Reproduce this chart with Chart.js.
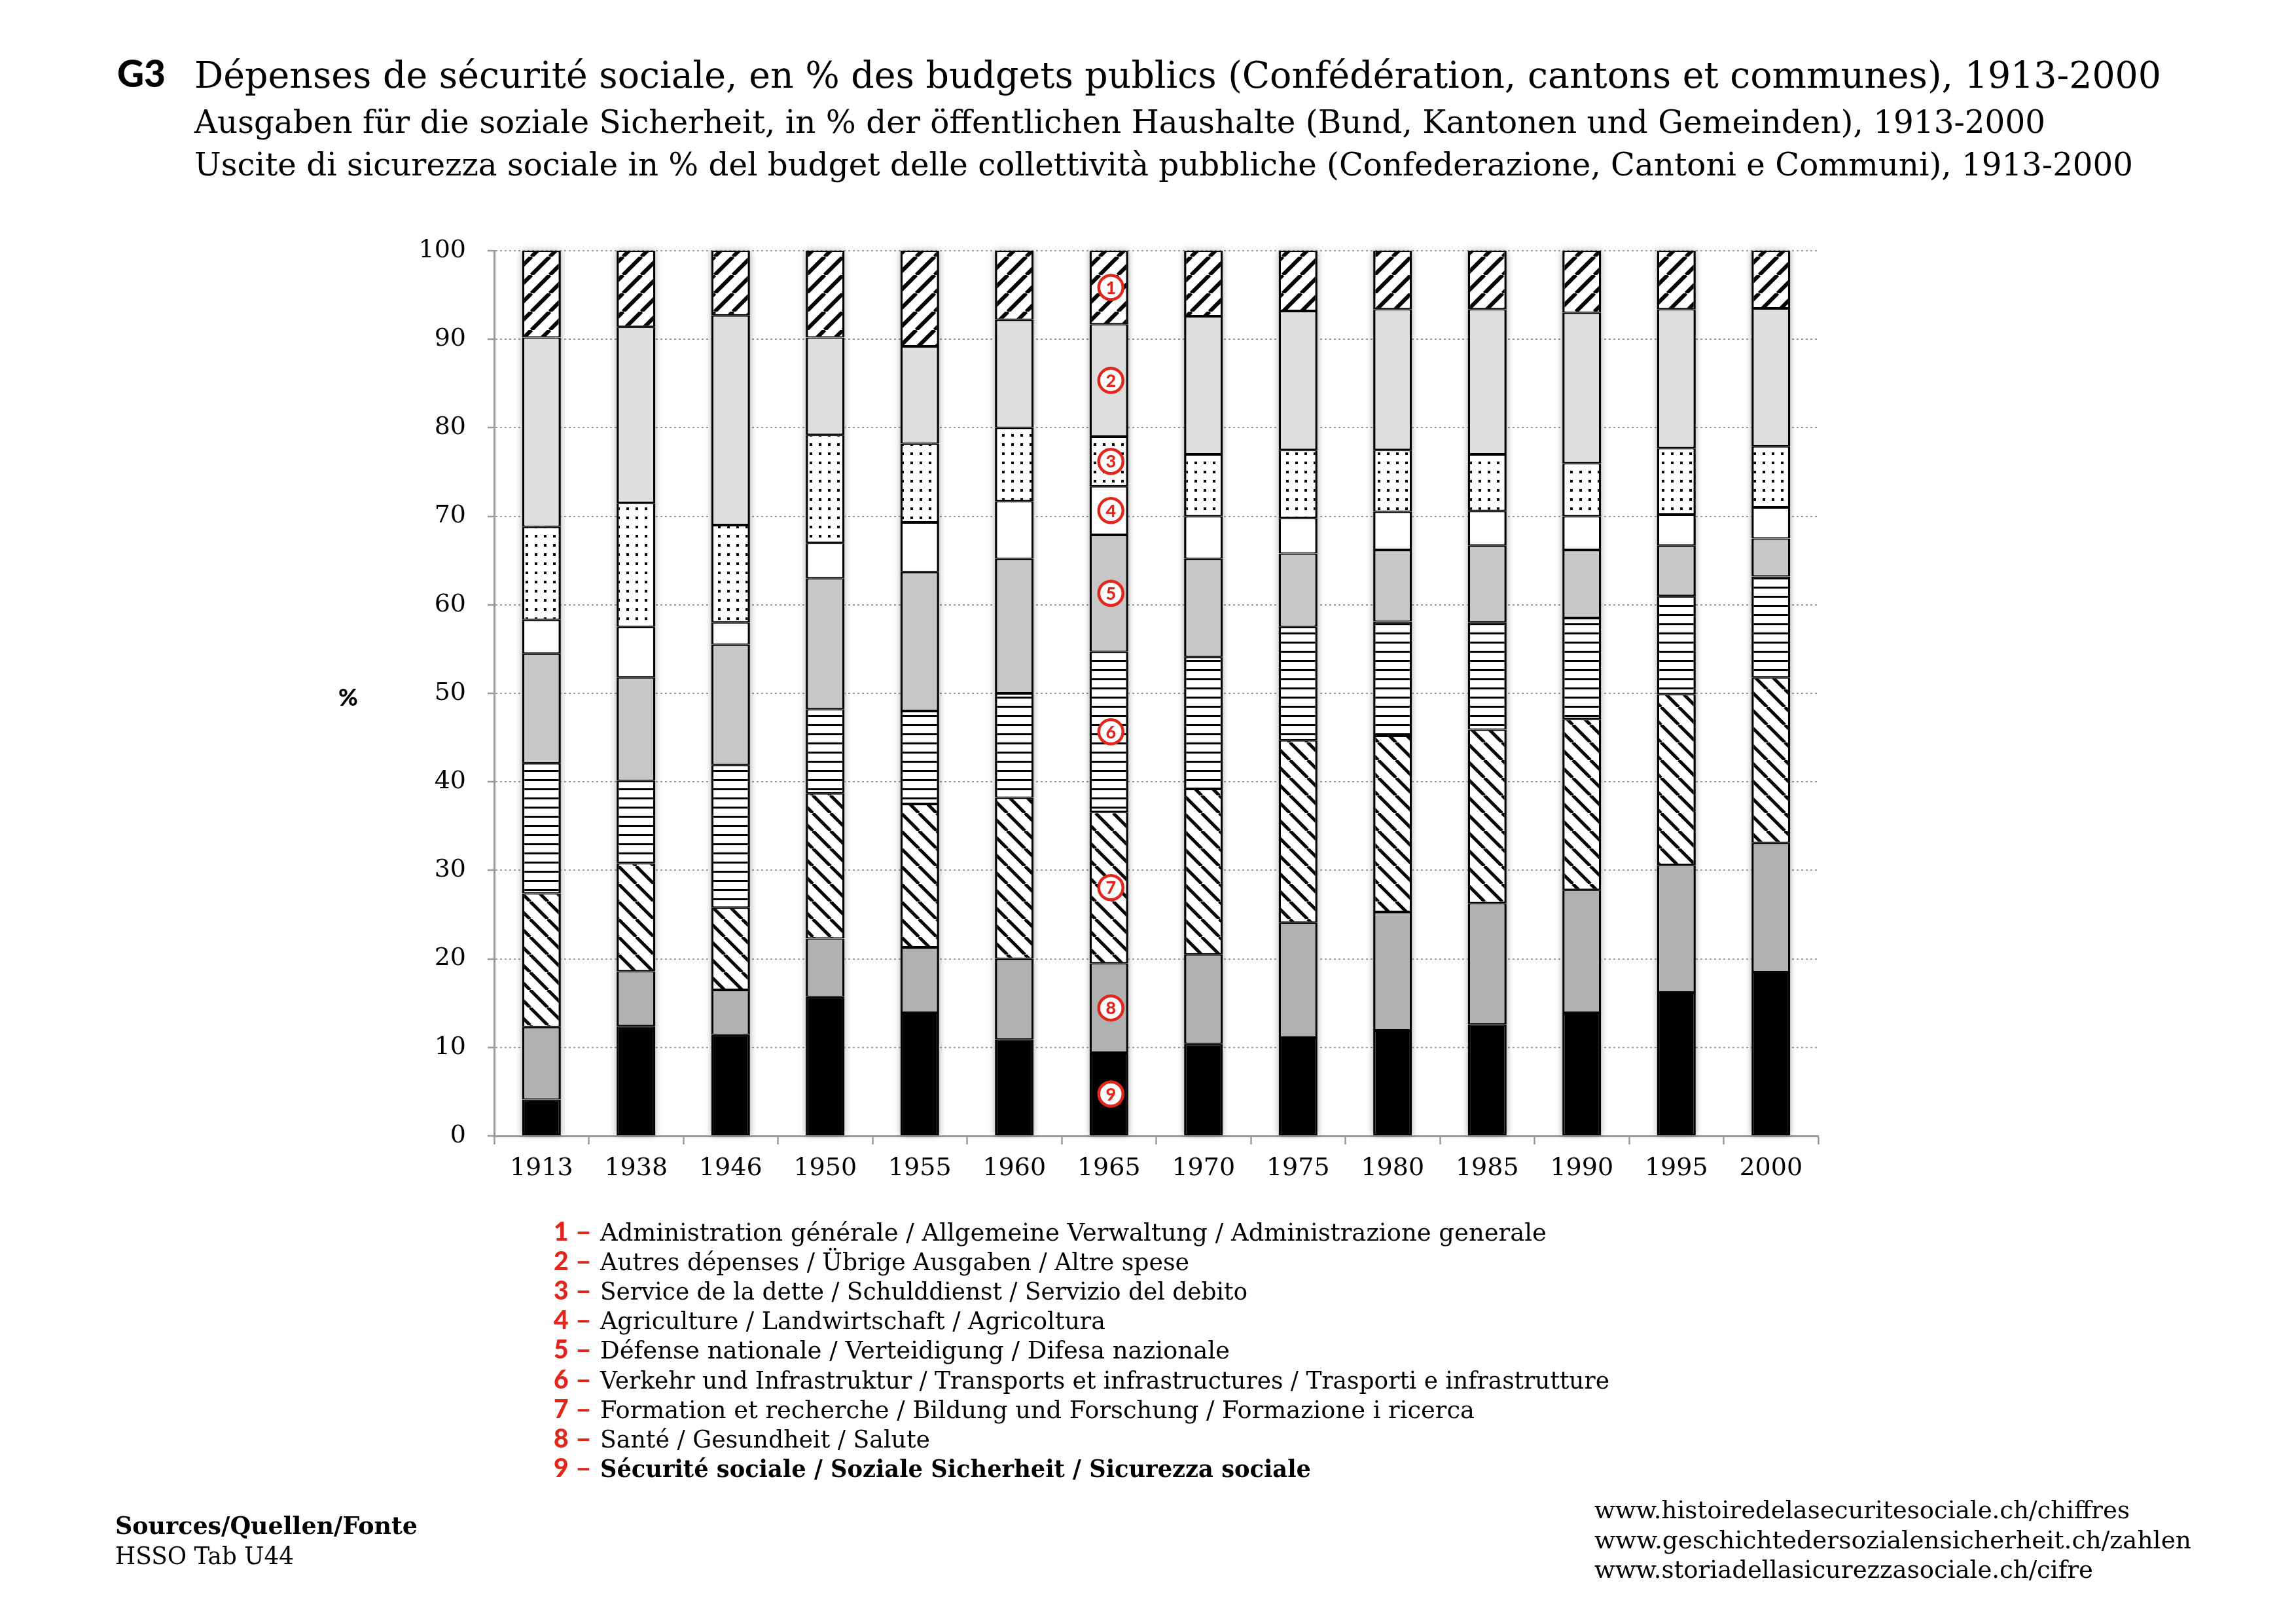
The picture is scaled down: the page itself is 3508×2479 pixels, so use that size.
<!DOCTYPE html>
<html>
<head>
<meta charset="utf-8">
<title>G3 Dépenses de sécurité sociale</title>
<script src="https://cdn.jsdelivr.net/npm/chart.js@4.4.1/dist/chart.umd.min.js"></script>
<style>
  html, body { margin: 0; padding: 0; background: #fff; }
  #wrap { width: 3508px; height: 2479px; }
</style>
</head>
<body>
<div id="wrap"><canvas id="chart" width="3508" height="2479"></canvas></div>
<script>
// données (en % des budgets publics), série 9 en bas de la pile
const years = ['1913', '1938', '1946', '1950', '1955', '1960', '1965', '1970', '1975', '1980', '1985', '1990', '1995', '2000'];
const securiteSociale = [4.1, 12.4, 11.4, 15.7, 13.9, 10.9, 9.4, 10.4, 11.1, 11.9, 12.6, 13.9, 16.2, 18.5];
const sante           = [8.2, 6.2, 5.1, 6.6, 7.4, 9.1, 10.1, 10.1, 13.0, 13.4, 13.7, 13.9, 14.4, 14.6];
const formation       = [15.1, 12.2, 9.3, 16.4, 16.2, 18.2, 17.1, 18.7, 20.6, 19.9, 19.6, 19.3, 19.3, 18.7];
const transports      = [14.7, 9.3, 16.1, 9.5, 10.5, 11.8, 18.1, 14.9, 12.8, 12.9, 12.1, 11.4, 11.1, 11.4];
const defense         = [12.4, 11.7, 13.6, 14.8, 15.7, 15.2, 13.2, 11.1, 8.3, 8.1, 8.7, 7.7, 5.7, 4.3];
const agriculture     = [3.8, 5.7, 2.5, 4.0, 5.6, 6.5, 5.5, 4.8, 4.0, 4.3, 3.9, 3.8, 3.5, 3.5];
const serviceDette    = [10.5, 14.0, 11.0, 12.2, 8.9, 8.3, 5.6, 7.0, 7.7, 7.0, 6.4, 6.0, 7.5, 6.9];
const autresDepenses  = [21.4, 19.9, 23.7, 11.0, 11.0, 12.2, 12.7, 15.6, 15.7, 15.9, 16.4, 17.0, 15.7, 15.6];
const administration  = [9.8, 8.6, 7.3, 9.8, 10.8, 7.8, 8.3, 7.4, 6.8, 6.6, 6.6, 7.0, 6.6, 6.5];
const yTicks = [0, 10, 20, 30, 40, 50, 60, 70, 80, 90, 100];

const legendTexts = [
    'Administration générale / Allgemeine Verwaltung / Administrazione generale',
    'Autres dépenses / Übrige Ausgaben / Altre spese',
    'Service de la dette / Schulddienst / Servizio del debito',
    'Agriculture / Landwirtschaft / Agricoltura',
    'Défense nationale / Verteidigung / Difesa nazionale',
    'Verkehr und Infrastruktur / Transports et infrastructures / Trasporti e infrastrutture',
    'Formation et recherche / Bildung und Forschung / Formazione i ricerca',
    'Santé / Gesundheit / Salute',
    'Sécurité sociale / Soziale Sicherheit / Sicurezza sociale'
];
const markedYear = '1965';

const RED = '#e2261c';
const SERIF = 'DejaVu Serif';

const canvas = document.getElementById('chart');
const ctx = canvas.getContext('2d');

// motifs
function hatch(dir, size, lw) {
    const c = document.createElement('canvas');
    c.width = size; c.height = size;
    const g = c.getContext('2d');
    g.fillStyle = '#fff';
    g.fillRect(0, 0, size, size);
    g.strokeStyle = '#000';
    g.lineWidth = lw;
    for (let k = -1; k <= 1; k++) {
        g.beginPath();
        if (dir === '/') { g.moveTo(k * size, size); g.lineTo(k * size + size, 0); }
        else { g.moveTo(k * size, 0); g.lineTo(k * size + size, size); }
        g.stroke();
    }
    return ctx.createPattern(c, 'repeat');
}
function hlines(step, lw) {
    const c = document.createElement('canvas');
    c.width = step; c.height = step;
    const g = c.getContext('2d');
    g.fillStyle = '#fff'; g.fillRect(0, 0, step, step);
    g.fillStyle = '#000'; g.fillRect(0, 0, step, lw);
    return ctx.createPattern(c, 'repeat');
}
function dots(step, d) {
    const c = document.createElement('canvas');
    c.width = step; c.height = step;
    const g = c.getContext('2d');
    g.fillStyle = '#fff'; g.fillRect(0, 0, step, step);
    g.fillStyle = '#000'; g.fillRect(5, 5, d, d);
    return ctx.createPattern(c, 'repeat');
}

// ordre de la pile: 9 (bas) ... 1 (haut)
const series = [
    { n: 9, data: securiteSociale, fill: '#000000' },
    { n: 8, data: sante, fill: '#b1b1b1' },
    { n: 7, data: formation, fill: hatch('\\', 27, 5) },
    { n: 6, data: transports, fill: hlines(14, 3) },
    { n: 5, data: defense, fill: '#c7c7c7' },
    { n: 4, data: agriculture, fill: '#ffffff' },
    { n: 3, data: serviceDette, fill: dots(14, 4) },
    { n: 2, data: autresDepenses, fill: '#dedede' },
    { n: 1, data: administration, fill: hatch('/', 28, 6) }
];

const datasets = series.map(s => ({
    label: legendTexts[s.n - 1],
    data: s.data,
    backgroundColor: s.fill,
    borderColor: '#000',
    borderWidth: { top: 2, bottom: 2, left: 3.5, right: 3.5 },
    borderSkipped: false
}));

// texte comprimé à la largeur voulue
function fitText(c, text, x, y, font, targetW) {
    c.font = font;
    const w = c.measureText(text).width;
    c.save();
    c.translate(x, y);
    c.scale(targetW / w, 1);
    c.fillText(text, 0, 0);
    c.restore();
}

const shadowPlugin = {
    id: 'barShadow',
    beforeDatasetsDraw(chart) {
        const c = chart.ctx;
        const first = chart.getDatasetMeta(0);
        const last = chart.getDatasetMeta(chart.data.datasets.length - 1);
        c.save();
        c.shadowColor = 'rgba(0,0,0,0.35)';
        c.shadowBlur = 10;
        c.fillStyle = '#fff';
        years.forEach((_, i) => {
            const top = last.data[i];
            const bot = first.data[i];
            c.fillRect(top.x - top.width / 2, top.y, top.width, bot.base - top.y);
        });
        c.restore();
    }
};

const markerPlugin = {
    id: 'markers',
    afterDatasetsDraw(chart) {
        const c = chart.ctx;
        const idx = years.indexOf(markedYear);
        c.save();
        series.forEach((s, i) => {
            const el = chart.getDatasetMeta(i).data[idx];
            const x = el.x + 3;
            const y = (el.y + el.base) / 2;
            c.beginPath();
            c.arc(x, y, 18.5, 0, Math.PI * 2);
            c.fillStyle = '#fff';
            c.fill();
            c.lineWidth = 4.5;
            c.strokeStyle = RED;
            c.stroke();
            c.fillStyle = RED;
            c.font = '900 27px Lato';
            c.textAlign = 'center';
            c.textBaseline = 'middle';
            c.fillText(String(s.n), x, y + 1);
        });
        c.restore();
    }
};

const textPlugin = {
    id: 'texts',
    afterDraw(chart) {
        const c = chart.ctx;
        c.save();
        c.fillStyle = '#000';
        c.textAlign = 'left';
        c.textBaseline = 'alphabetic';

        // titres
        fitText(c, 'G3', 179, 133, '900 58px Lato', 74);
        fitText(c, 'Dépenses de sécurité sociale, en % des budgets publics (Confédération, cantons et communes), 1913-2000',
            297, 134, '56px ' + SERIF, 3005);
        fitText(c, 'Ausgaben für die soziale Sicherheit, in % der öffentlichen Haushalte (Bund, Kantonen und Gemeinden), 1913-2000',
            297, 203, '49px ' + SERIF, 2828);
        fitText(c, 'Uscite di sicurezza sociale in % del budget delle collettività pubbliche (Confederazione, Cantoni e Communi), 1913-2000',
            297, 268, '49px ' + SERIF, 2962);

        // unité
        c.font = '900 36px Lato';
        c.textAlign = 'center';
        c.textBaseline = 'middle';
        c.fillText('%', 532, 1066);
        c.textAlign = 'left';
        c.textBaseline = 'alphabetic';

        // légende
        const widths = [1446, 900, 989, 772, 962, 1542, 1336, 504, 1086];
        legendTexts.forEach((t, i) => {
            const y = 1895 + i * 45.1;
            c.fillStyle = RED;
            c.font = '900 39px Lato';
            c.fillText(String(i + 1), 846, y);
            fitText(c, '–', 879, y, '900 39px Lato', 25);
            c.fillStyle = '#000';
            fitText(c, t, 917, y, (i === 8 ? 'bold ' : '') + '37px ' + SERIF, widths[i]);
        });

        // sources
        fitText(c, 'Sources/Quellen/Fonte', 176, 2343, 'bold 37px ' + SERIF, 462);
        fitText(c, 'HSSO Tab U44', 176, 2389, '37px ' + SERIF, 273);
        fitText(c, 'www.histoiredelasecuritesociale.ch/chiffres', 2436, 2319, '37px ' + SERIF, 818);
        fitText(c, 'www.geschichtedersozialensicherheit.ch/zahlen', 2436, 2365, '37px ' + SERIF, 912);
        fitText(c, 'www.storiadellasicurezzasociale.ch/cifre', 2436, 2410, '37px ' + SERIF, 762);
        c.restore();
    }
};

new Chart(ctx, {
    type: 'bar',
    data: { labels: years, datasets: datasets },
    options: {
        responsive: false,
        animation: false,
        devicePixelRatio: 1,
        layout: { padding: { left: 0, right: 730, top: 383, bottom: 0 } },
        datasets: { bar: { barPercentage: 0.41, categoryPercentage: 1 } },
        plugins: { legend: { display: false }, tooltip: { enabled: false } },
        scales: {
            x: {
                stacked: true,
                grid: { display: true, drawOnChartArea: false, drawTicks: true, tickLength: 13, tickColor: '#9a9a9a', tickWidth: 2.5, color: '#9a9a9a' },
                border: { display: true, color: '#9a9a9a', width: 3 },
                ticks: { color: '#000', font: { family: SERIF, size: 38 }, padding: 14, maxRotation: 0 },
                afterFit: s => { s.height = 744; }
            },
            y: {
                stacked: true,
                min: 0,
                max: 100,
                afterBuildTicks: s => { s.ticks = yTicks.map(v => ({ value: v })); },
                grid: { color: '#9a9a9a', lineWidth: 2, tickLength: 10, tickColor: '#9a9a9a', tickWidth: 2.5, tickBorderDash: [] },
                border: { display: true, color: '#9a9a9a', width: 3, dash: [3, 4] },
                ticks: { color: '#000', font: { family: SERIF, size: 38 }, padding: 33 },
                afterFit: s => { s.width = 755; }
            }
        }
    },
    plugins: [shadowPlugin, markerPlugin, textPlugin]
});
</script>
</body>
</html>
